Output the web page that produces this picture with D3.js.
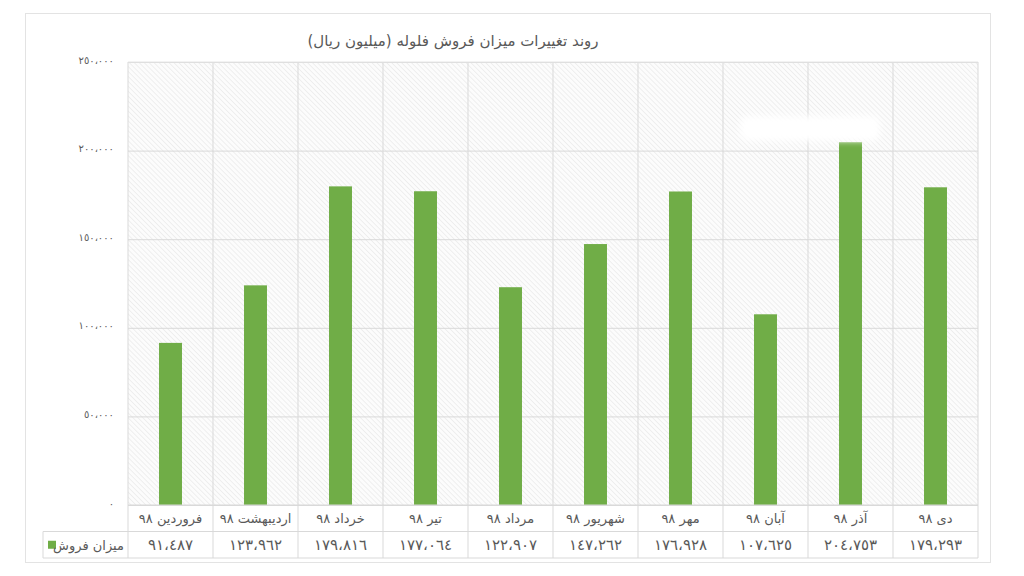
<!DOCTYPE html>
<html>
<head>
<meta charset="utf-8">
<script src="https://cdn.jsdelivr.net/npm/d3@7"></script>
<style>
  body { margin: 0; background: #fff; }
  text { font-family: "DejaVu Sans", "Noto Sans", sans-serif; fill: #595959; }
</style>
</head>
<body>
<div id="chart"></div>
<script>
// chart data
var categories = ["فروردین ٩٨", "اردیبهشت ٩٨", "خرداد ٩٨", "تیر ٩٨", "مرداد ٩٨",
                  "شهریور ٩٨", "مهر ٩٨", "آبان ٩٨", "آذر ٩٨", "دی ٩٨"];
var sales = [91487, 123962, 179816, 177064, 122907, 147262, 176928, 107625, 204753, 179293];
var yTicks = [0, 50000, 100000, 150000, 200000, 250000];
var seriesName = "میزان فروش";
var title = "روند تغییرات میزان فروش فلوله (میلیون ریال)";

var svgWidth = 1024, svgHeight = 576;
var margin = {top: 62, right: 46, bottom: 71, left: 128};
var width = svgWidth - margin.left - margin.right;
var height = svgHeight - margin.top - margin.bottom;
var rowH = 26.5;
var green = "#70ad47", grid = "#d9d9d9";

// western digits -> arabic-indic digits, comma -> arabic comma
function fa(n) {
  return d3.format(",")(n).replace(/[0-9]/g, d => String.fromCharCode(0x0660 + +d)).replace(/,/g, "،");
}

var svg = d3.select("#chart").append("svg")
  .attr("width", svgWidth)
  .attr("height", svgHeight);

var defs = svg.append("defs");
var pat = defs.append("pattern")
  .attr("id", "hatch")
  .attr("width", 3.5).attr("height", 3.5)
  .attr("patternUnits", "userSpaceOnUse")
  .attr("patternTransform", "rotate(-45)");
pat.append("rect").attr("width", 3.5).attr("height", 3.5).attr("fill", "#fcfcfc");
pat.append("line").attr("x1", 0).attr("y1", 0).attr("x2", 0).attr("y2", 3.5)
  .attr("stroke", "#e2e2e2").attr("stroke-width", 1);
defs.append("filter").attr("id", "blur")
  .attr("x", "-20%").attr("y", "-50%").attr("width", "140%").attr("height", "200%")
  .append("feGaussianBlur").attr("stdDeviation", 3);

// chart border
svg.append("rect")
  .attr("x", 25.5).attr("y", 13.5).attr("width", 965).attr("height", 549)
  .attr("fill", "#fff").attr("stroke", "#e3e3e3");

// title
svg.append("text")
  .attr("x", 453).attr("y", 46)
  .attr("text-anchor", "middle")
  .attr("direction", "rtl")
  .attr("font-size", 15)
  .text(title);

var chartGroup = svg.append("g")
  .attr("transform", "translate(" + margin.left + "," + margin.top + ")");

var xScale = d3.scaleBand().domain(categories).range([0, width]);
var yScale = d3.scaleLinear().domain([0, 250000]).range([height, 0]);

// hatched plot background
chartGroup.append("rect")
  .attr("width", width).attr("height", height)
  .attr("fill", "url(#hatch)");

// horizontal gridlines
chartGroup.append("g")
  .call(d3.axisLeft(yScale).tickValues(yTicks).tickSize(-width).tickFormat(""))
  .call(g => g.select(".domain").remove())
  .selectAll("line").attr("stroke", grid);

// y axis labels
chartGroup.append("g")
  .attr("transform", "translate(-11,0)")
  .call(d3.axisLeft(yScale).tickValues(yTicks).tickSize(0).tickFormat(fa))
  .call(g => g.select(".domain").remove())
  .selectAll("text")
    .attr("font-size", 10)
    .attr("dy", "0.1em")
    .style("font-family", "\"DejaVu Sans\", sans-serif")
    .attr("fill", "#595959");

// bars
var barW = xScale.bandwidth() * 0.27;
chartGroup.selectAll(".bar")
  .data(sales)
  .enter()
  .append("rect")
  .attr("class", "bar")
  .attr("x", (d, i) => xScale(categories[i]) + (xScale.bandwidth() - barW) / 2)
  .attr("y", d => yScale(d))
  .attr("width", barW)
  .attr("height", d => height - yScale(d))
  .attr("fill", green);

// data table lines
var tbl = chartGroup.append("g").attr("stroke", grid).attr("fill", "none");
categories.concat([null]).forEach(function(c, i) {
  var x = i < categories.length ? xScale(c) : width;
  tbl.append("line").attr("x1", x).attr("x2", x).attr("y1", 0).attr("y2", height + 2 * rowH);
});
tbl.append("line").attr("x1", 0).attr("x2", width).attr("y1", height).attr("y2", height);
tbl.append("line").attr("x1", -85).attr("x2", width).attr("y1", height + rowH).attr("y2", height + rowH);
tbl.append("line").attr("x1", -85).attr("x2", width).attr("y1", height + 2 * rowH).attr("y2", height + 2 * rowH);
tbl.append("line").attr("x1", -85).attr("x2", -85).attr("y1", height + rowH).attr("y2", height + 2 * rowH);
tbl.append("line").attr("x1", 0).attr("x2", width).attr("y1", 0).attr("y2", 0).attr("stroke", "#e6e6e6");

// category labels
chartGroup.selectAll(".cat")
  .data(categories)
  .enter()
  .append("text")
  .attr("class", "cat")
  .attr("x", d => xScale(d) + xScale.bandwidth() / 2)
  .attr("y", height + rowH / 2 + 5)
  .attr("text-anchor", "middle")
  .attr("direction", "rtl")
  .attr("font-size", 13)
  .text(d => d);

// values row
chartGroup.selectAll(".val")
  .data(sales)
  .enter()
  .append("text")
  .attr("class", "val")
  .attr("x", (d, i) => xScale(categories[i]) + xScale.bandwidth() / 2)
  .attr("y", height + rowH * 1.5 + 5)
  .attr("text-anchor", "middle")
  .attr("font-size", 15)
  .text(d => fa(d));

// legend cell
chartGroup.append("rect")
  .attr("x", -80).attr("y", height + rowH * 1.5 - 4)
  .attr("width", 8).attr("height", 8)
  .attr("fill", green);
chartGroup.append("text")
  .attr("x", -4).attr("y", height + rowH * 1.5 + 5)
  .attr("text-anchor", "start")
  .attr("direction", "rtl")
  .attr("font-size", 13)
  .text(seriesName);

// white smudge seen in the source image
svg.append("rect")
  .attr("x", 740).attr("y", 116).attr("width", 140).attr("height", 25)
  .attr("rx", 8)
  .attr("fill", "#fff")
  .attr("filter", "url(#blur)");
</script>
</body>
</html>
